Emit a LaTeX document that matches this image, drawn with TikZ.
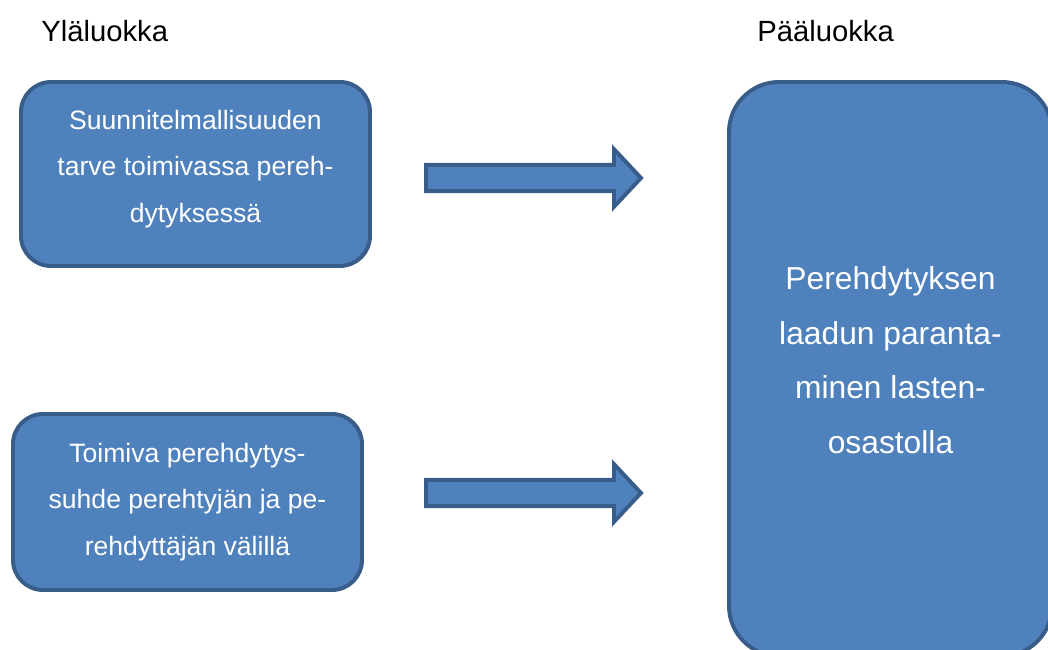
\documentclass[tikz,border=0pt]{standalone}
\usepackage{fontspec}
\setmainfont{Liberation Sans}
\definecolor{BoxFill}{HTML}{4F81BD}
\definecolor{BoxLine}{HTML}{385D8A}

\begin{document}
\begin{tikzpicture}[
      luokka/.style={rounded corners=0.75cm,fill=BoxFill,draw=BoxLine,line width=2.8pt,
        minimum width=8.725cm,align=center,text=white,font=\fontsize{18.9}{33}\selectfont},
      otsikko/.style={anchor=west,inner sep=0pt,font=\fontsize{20.8}{25}\selectfont},
      nuoli/.style={fill=BoxFill,draw=BoxLine,line width=2.8pt,line join=miter}]
      \useasboundingbox (0,0) rectangle (26.2,16.25);
      \node[otsikko] (ylaots) at (1.025,15.475) {Yläluokka};
      \node[otsikko] (paaots) at (18.925,15.475) {Pääluokka};
      \node[luokka,minimum height=4.6cm,text depth=0.39cm] (yla1) at (4.8875,11.9)
        {Suunnitelmallisuuden\\tarve toimivassa pereh-\\dytyksessä};
      \node[luokka,minimum height=4.4cm] (yla2) at (4.6875,3.7)
        {Toimiva perehdytys-\\suhde perehtyjän ja pe-\\rehdyttäjän välillä};
      \node[luokka,rounded corners=1.25cm,minimum width=8.075cm,minimum height=14.35cm,
        text depth=0.45cm,font=\fontsize{22.6}{39}\selectfont] (paa) at (22.2625,7.025)
        {Perehdytyksen\\laadun paranta-\\minen lasten-\\osastolla};
      % block arrows between the columns
      \foreach \n/\y in {1/11.8,2/3.925} {
        \coordinate (nuoli\n) at (10.65,\y);
        \draw[nuoli] ([yshift=0.33cm]nuoli\n) -- ++(4.7,0) -- ++(0,0.39) -- ++(0.675,-0.72)
          -- ++(-0.675,-0.72) -- ++(0,0.39) -- ++(-4.7,0) -- cycle;
      }
    \end{tikzpicture}
\end{document}
